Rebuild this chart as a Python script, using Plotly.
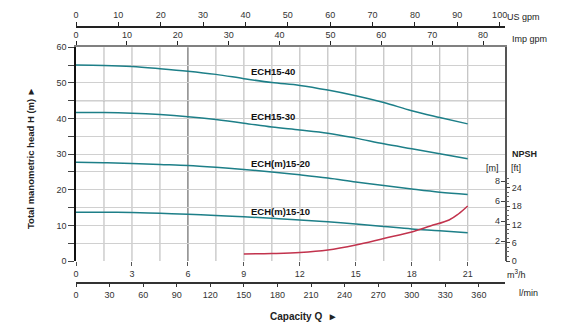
import plotly.graph_objects as go

# ---------------- data ----------------
q_points = [0, 1.5, 3, 4.5, 6, 7.5, 9, 10.5, 12, 13.5, 15, 16.5, 18, 19.5, 21]
h_ech15_40 = [55.0, 54.9, 54.6, 54.0, 53.3, 52.4, 51.2, 50.1, 49.3, 48.0, 46.4, 44.5, 42.2, 40.3, 38.5]
h_ech15_30 = [41.7, 41.7, 41.5, 41.1, 40.5, 39.7, 38.7, 37.6, 36.8, 35.9, 34.5, 32.9, 31.5, 30.1, 28.7]
h_ech15_20 = [27.7, 27.6, 27.4, 27.1, 26.8, 26.3, 25.7, 25.0, 24.2, 23.3, 22.2, 21.2, 20.2, 19.3, 18.7]
h_ech15_10 = [13.7, 13.7, 13.6, 13.4, 13.1, 12.8, 12.4, 12.0, 11.5, 11.0, 10.4, 9.7, 9.0, 8.5, 7.9]
curve_names = ["ECH15-40", "ECH15-30", "ECH(m)15-20", "ECH(m)15-10"]
label_heights = [53.3, 40.6, 27.4, 14.0]

q_npsh = [9, 10.5, 12, 13.5, 15, 16.5, 18, 19, 20, 20.5, 21]
npsh_m = [0.7, 0.75, 0.85, 1.1, 1.6, 2.25, 2.9, 3.5, 4.1, 4.7, 5.5]

q_ticks = [0, 3, 6, 9, 12, 15, 18, 21]
q_grid = [1.5, 3, 4.5, 7.5, 9, 10.5, 12, 13.5, 15, 16.5, 18, 19.5, 21]
h_ticks = [0, 5, 10, 15, 20, 25, 30, 35, 40, 45, 50, 55, 60]
h_ticktext = ["0", "", "10", "", "20", "", "30", "", "40", "", "50", "", "60"]
lmin_ticks = [0, 30, 60, 90, 120, 150, 180, 210, 240, 270, 300, 330, 360]
usgpm_ticks = [0, 10, 20, 30, 40, 50, 60, 70, 80, 90, 100]
impgpm_ticks = [0, 10, 20, 30, 40, 50, 60, 70, 80]
npsh_m_ticks = [2, 4, 6, 8]
npsh_ft_ticks = [0, 6, 12, 18, 24]
npsh_ft_minor = [1.5 * i for i in range(0, 19)]

Q_MAX = 23.0
H_MAX = 60.0
NPSH_MAX = 21.37

W, H = 565, 329
def px(x):
    return x / W
def py(y):
    return (H - y) / H

xdom = [px(76), px(505)]
ydom = [py(261), py(47.3)]

FONT = "Arial, Liberation Sans, sans-serif"
TICKFONT = dict(family=FONT, size=9, color="#333")
TEAL = "#1d7f88"
RED = "#c2334d"
GRID = "#d0d0d0"
VGRID = "#c0c0c0"

fig = go.Figure()
for name, hv in zip(curve_names, [h_ech15_40, h_ech15_30, h_ech15_20, h_ech15_10]):
    fig.add_trace(go.Scatter(x=q_points, y=hv, mode="lines", name=name,
                             line=dict(color=TEAL, width=1.5, shape="spline"),
                             showlegend=False, hoverinfo="skip"))
fig.add_trace(go.Scatter(x=q_npsh, y=npsh_m, mode="lines", name="NPSH", yaxis="y2",
                         line=dict(color=RED, width=1.5, shape="spline"),
                         showlegend=False, hoverinfo="skip"))

# empty traces so that the secondary unit scales get drawn
for xa, ya in [("x2", "y"), ("x3", "y"), ("x4", "y"), ("x", "y3")]:
    fig.add_trace(go.Scatter(x=[None], y=[None], xaxis=xa, yaxis=ya, mode="lines",
                             showlegend=False, hoverinfo="skip"))

common = dict(zeroline=False, automargin=False, visible=True)

fig.update_layout(
    width=W, height=H,
    margin=dict(l=0, r=0, t=0, b=0),
    paper_bgcolor="white", plot_bgcolor="white",
    showlegend=False,
    xaxis=dict(domain=xdom, anchor="y", range=[0, Q_MAX], tickmode="array", tickvals=q_ticks,
               ticks="outside", ticklen=4, tickcolor="#555", tickfont=TICKFONT,
               showgrid=False, showline=False, **common),
    yaxis=dict(domain=ydom, anchor="x", range=[0, H_MAX], tickmode="array",
               tickvals=h_ticks, ticktext=h_ticktext,
               ticks="outside", ticklen=6, tickcolor="#444", tickfont=TICKFONT,
               showgrid=True, gridcolor=GRID, gridwidth=1,
               showline=True, linecolor="#111", linewidth=1.5, **common),
    xaxis2=dict(overlaying="x", anchor="free", position=py(283.3), side="bottom",
                range=[0, Q_MAX * 1000 / 60], tickmode="array", tickvals=lmin_ticks,
                ticks="outside", ticklen=3, tickcolor="#333", tickfont=TICKFONT,
                showline=True, linecolor="#333", linewidth=1.5, showgrid=False, **common),
    xaxis3=dict(overlaying="x", anchor="free", position=py(26.7), side="top",
                range=[0, Q_MAX / 0.227125], tickmode="array", tickvals=usgpm_ticks,
                ticks="outside", ticklen=4, tickcolor="#222", tickfont=TICKFONT,
                showline=True, linecolor="#222", linewidth=1.5, showgrid=False, **common),
    xaxis4=dict(overlaying="x", anchor="y", side="top",
                range=[0, Q_MAX / 0.272765], tickmode="array", tickvals=impgpm_ticks,
                ticks="outside", ticklen=4, tickcolor="#222", tickfont=TICKFONT,
                showline=True, linecolor="#808080", linewidth=2, showgrid=False, **common),
    yaxis2=dict(overlaying="y", anchor="x", side="right", range=[0, NPSH_MAX],
                tickmode="array", tickvals=npsh_m_ticks, ticks="inside", ticklen=4, tickcolor="#444",
                ticklabelposition="inside", tickfont=TICKFONT,
                showline=True, linecolor="#555", linewidth=1.5, showgrid=False, **common),
    yaxis3=dict(overlaying="y", anchor="x", side="right", range=[0, NPSH_MAX * 3.28084],
                tickmode="array", tickvals=npsh_ft_ticks, ticks="outside", ticklen=4,
                tickcolor="#444", tickfont=TICKFONT, showline=False, showgrid=False,
                minor=dict(tickmode="array", tickvals=npsh_ft_minor, ticks="outside",
                           ticklen=3, tickcolor="#666"),
                **common),
)

# vertical grid lines every 1.5 m3/h (placed through the capacity axis)
for qg in q_grid:
    fig.add_shape(type="line", xref="x", yref="y domain", x0=qg, x1=qg, y0=0, y1=1,
                  line=dict(color=VGRID, width=1.2), layer="below")
# darker reference lines seen in the original
fig.add_shape(type="line", xref="x", yref="y domain", x0=6, x1=6, y0=0, y1=1,
              line=dict(color="#6a6a6a", width=1.2), layer="below")
fig.add_shape(type="line", xref="x domain", yref="y", x0=0, x1=1, y0=45, y1=45,
              line=dict(color="#8a8a8a", width=1), layer="below")

ann = []
for name, hy in zip(curve_names, label_heights):
    ann.append(dict(x=9.27, y=hy, xref="x", yref="y", text=name, showarrow=False,
                    xanchor="left", yanchor="middle",
                    font=dict(family=FONT, size=9.5, color="#111", weight="bold")))

def ptext(x, y, text, size=9, bold=False, xanchor="center", angle=0):
    ann.append(dict(x=px(x), y=py(y), xref="paper", yref="paper", text=text,
                    showarrow=False, xanchor=xanchor, yanchor="middle", textangle=angle,
                    font=dict(family=FONT, size=size, color="#222",
                              weight="bold" if bold else "normal")))

ptext(30, 158, "Total manometric head H (m) \u25ba", size=9.5, bold=True, angle=-90)
ptext(304, 316, "Capacity Q  \u25ba", size=10, bold=True)
ptext(505, 274, "m<sup>3</sup>/h", size=9, xanchor="left")
ptext(517, 293, "l/min", size=9, xanchor="left")
ptext(505, 17, "US gpm", size=9, xanchor="left")
ptext(510, 39, "Imp gpm", size=9, xanchor="left")
ptext(510, 154, "NPSH", size=9, bold=True, xanchor="left")
ptext(492, 168, "[m]", size=9)
ptext(516, 168, "[ft]", size=9)

fig.update_layout(annotations=ann)
fig.write_html("out.html")
